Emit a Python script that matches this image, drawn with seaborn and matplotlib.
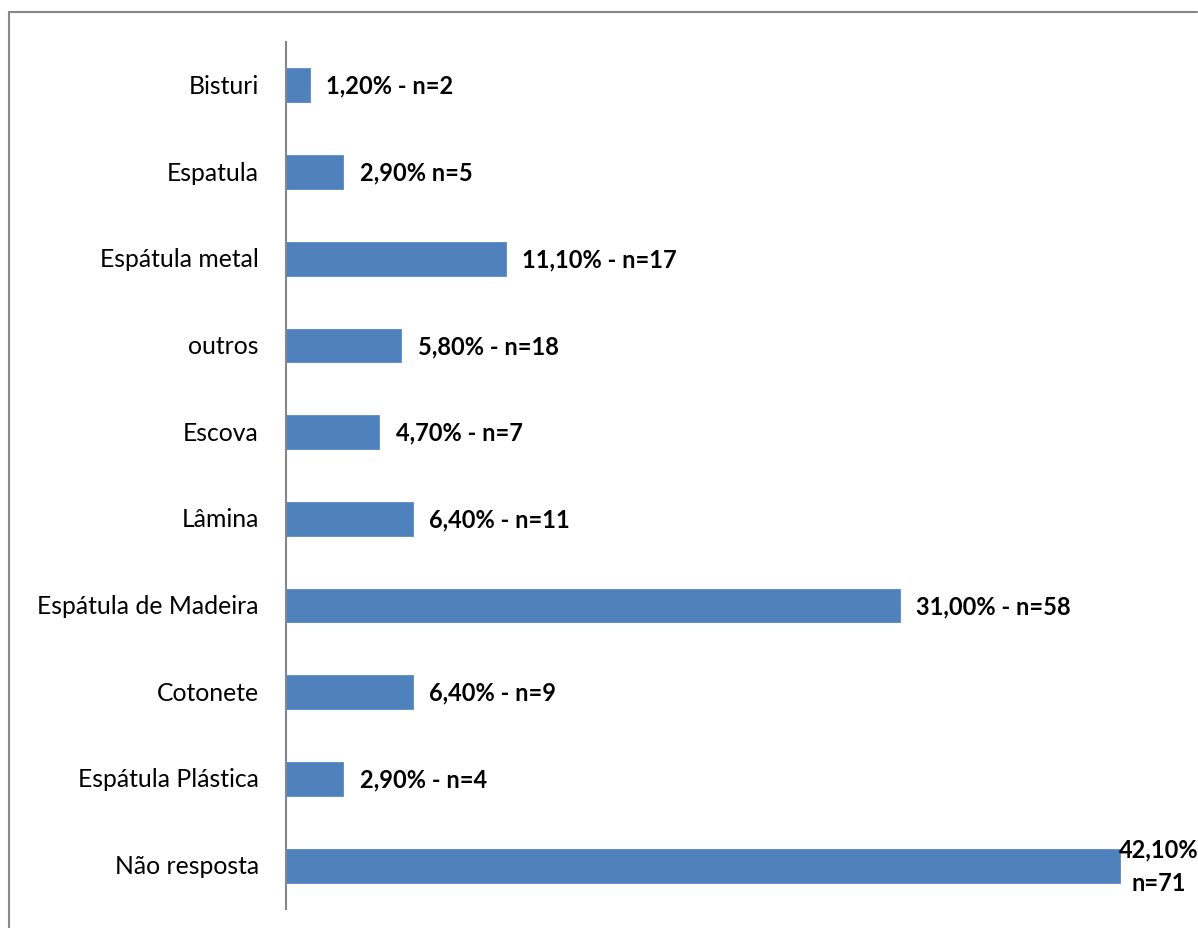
import matplotlib
matplotlib.use("Agg")
import matplotlib.pyplot as plt
from matplotlib.lines import Line2D
import seaborn as sns
import pandas as pd

# Instruments used for the collection
categories = ["Bisturi", "Espatula", "Espátula metal", "outros", "Escova",
              "Lâmina", "Espátula de Madeira", "Cotonete", "Espátula Plástica",
              "Não resposta"]
percent = [1.2, 2.9, 11.1, 5.8, 4.7, 6.4, 31.0, 6.4, 2.9, 42.1]
counts = [2, 5, 17, 18, 7, 11, 58, 9, 4, 71]
separators = [" - ", " ", " - ", " - ", " - ", " - ", " - ", " - ", " - ", "\n"]

df = pd.DataFrame({"categoria": categories, "pct": percent})

sns.set_theme(style="white")
plt.rcParams["font.family"] = ["Lato", "DejaVu Sans"]
plt.rcParams["text.color"] = "#000000"

W, H = 1198, 929
fig = plt.figure(figsize=(W / 100, H / 100), dpi=100)
ax = fig.add_axes([286 / W, 1 - 910 / H, (1177 - 286) / W, (910 - 43) / H])

sns.barplot(data=df, x="pct", y="categoria", orient="h", color="#4F81BD",
            saturation=1, width=0.39, ax=ax, edgecolor="#5A8AC4", linewidth=0.6)

ax.set_xlim(0, 45)
ax.set_ylim(9.5, -0.5)
ax.set_xlabel("")
ax.set_ylabel("")
ax.set_xticks([])
ax.tick_params(axis="y", length=0, pad=19.5, labelsize=17.8, labelcolor="#000000")
for lbl in ax.get_yticklabels():
    lbl.set_va("center")
    lbl.set_y(lbl.get_position()[1])
for side in ("top", "right", "bottom"):
    ax.spines[side].set_visible(False)
ax.spines["left"].set_color("#868686")
ax.spines["left"].set_linewidth(1.5)

for i, (p, n, sep) in enumerate(zip(percent, counts, separators)):
    text = f"{p:.2f}".replace(".", ",") + "%" + sep + f"n={n}"
    if "\n" in text:
        ax.annotate(text, xy=(p, i), xytext=(28, 0), textcoords="offset points",
                    ha="center", va="center", fontsize=17, fontweight="bold",
                    color="#000000", linespacing=1.6, annotation_clip=False)
    else:
        ax.annotate(text, xy=(p, i), xytext=(12, 0), textcoords="offset points",
                    ha="left", va="center", fontsize=17, fontweight="bold",
                    color="#000000")

# chart frame (top and left edges)
fig.add_artist(Line2D([8.5 / W, 1197 / W], [1 - 12.5 / H, 1 - 12.5 / H],
                      transform=fig.transFigure, color="#888888", linewidth=1.5))
fig.add_artist(Line2D([8.5 / W, 8.5 / W], [1 - 12.5 / H, 0],
                      transform=fig.transFigure, color="#888888", linewidth=1.5))

fig.savefig("out.png", dpi=100, facecolor="white")
